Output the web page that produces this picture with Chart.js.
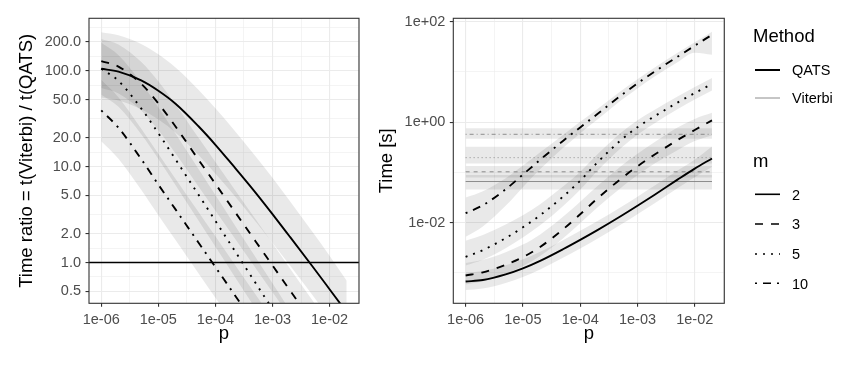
<!DOCTYPE html>
<html><head><meta charset="utf-8">
<script src="https://cdn.jsdelivr.net/npm/chart.js@4"></script>
<style>
html,body{margin:0;padding:0;background:#fff;width:863px;height:370px;overflow:hidden}
#wrapA{position:absolute;left:0;top:0;width:376px;height:370px}
#wrapB{position:absolute;left:376px;top:0;width:487px;height:370px}
</style></head><body>
<div id="wrapA"><canvas id="cA" width="376" height="370"></canvas></div>
<div id="wrapB"><canvas id="cB" width="487" height="370"></canvas></div>
<script>
// ---------------- data ----------------
const P = [1e-6, 2e-6, 5e-6, 1e-5, 2e-5, 5e-5, 1e-4, 2e-4, 5e-4, 1e-3, 2e-3, 5e-3, 1e-2, 2e-2];
const mLevels = ['2', '3', '5', '10'];

// left panel: time ratio t(Viterbi)/t(QATS)
const ratioM2  = [104.7, 97.7, 79.1, 61.7, 45.2, 26.5, 16.9, 10.4, 5.40, 3.20, 1.87, 0.914, 0.527, 0.303];
const ratioM3  = [125.9, 110.4, 73.1, 45.6, 26.2, 11.9, 6.61, 3.66, 1.68, 0.933, 0.518, 0.238, 0.132, 0.0731];
const ratioM5  = [104.7, 78.3, 40.5, 22.3, 11.9, 5.14, 2.72, 1.436, 0.618, 0.327, 0.173, 0.0743, 0.0393, 0.0207];
const ratioM10 = [38.5, 25.4, 12.0, 6.50, 3.58, 1.63, 0.897, 0.494, 0.225, 0.124, 0.0682, 0.0310, 0.0171, 0.00942];
const ratioHiM2  = [251, 234, 190, 148, 108, 63.7, 40.5, 25.1, 12.9, 7.67, 4.40, 2.09, 1.18, 0.647];
const ratioLoM2  = [52.5, 49.0, 39.6, 30.9, 22.6, 13.3, 8.45, 5.24, 2.70, 1.60, 0.940, 0.458, 0.264, 0.152];
const ratioHiM3  = [214, 188, 124, 77.4, 44.5, 20.2, 11.2, 6.22, 2.86, 1.585, 0.879, 0.404, 0.224, 0.124];
const ratioLoM3  = [66.1, 57.9, 38.4, 23.9, 13.7, 6.25, 3.47, 1.92, 0.883, 0.490, 0.272, 0.125, 0.0692, 0.0384];
const ratioHiM5  = [195, 146, 75.3, 41.5, 22.2, 9.57, 5.06, 2.67, 1.151, 0.608, 0.321, 0.138, 0.0731, 0.0386];
const ratioLoM5  = [56.2, 42.1, 21.7, 12.0, 6.41, 2.76, 1.459, 0.771, 0.332, 0.175, 0.0927, 0.0399, 0.0211, 0.0111];
const ratioHiM10 = [80.4, 53.0, 25.0, 13.6, 7.48, 3.40, 1.875, 1.033, 0.470, 0.259, 0.143, 0.0649, 0.0357, 0.0197];
const ratioLoM10 = [18.4, 12.1, 5.73, 3.11, 1.714, 0.780, 0.430, 0.237, 0.108, 0.0593, 0.0327, 0.0149, 0.00818, 0.00451];
const ratioRef = 1;

// right panel: time [s]
const qatsM2   = [6.76e-4, 7.24e-4, 9.35e-4, 1.233e-3, 1.742e-3, 2.965e-3, 4.56e-3, 7.13e-3, 1.330e-2, 2.178e-2, 3.61e-2, 7.19e-2, 0.1194, 0.190];
const qatsHiM2 = [1.023e-3, 1.096e-3, 1.416e-3, 1.866e-3, 2.636e-3, 4.49e-3, 6.90e-3, 1.079e-2, 2.014e-2, 3.30e-2, 5.47e-2, 0.1089, 0.1807, 0.330];
const qatsLoM2 = [4.57e-4, 4.90e-4, 6.32e-4, 8.34e-4, 1.178e-3, 2.004e-3, 3.08e-3, 4.82e-3, 8.99e-3, 1.472e-2, 2.443e-2, 4.86e-2, 8.07e-2, 0.1285];
const qatsM3   = [8.91e-4, 1.030e-3, 1.459e-3, 2.065e-3, 3.29e-3, 7.36e-3, 1.472e-2, 3.03e-2, 7.29e-2, 0.1324, 0.2275, 0.441, 0.701, 1.086];
const qatsHiM3 = [1.585e-3, 1.832e-3, 2.594e-3, 3.67e-3, 5.85e-3, 1.309e-2, 2.618e-2, 5.38e-2, 0.1297, 0.2355, 0.4046, 0.7834, 1.164, 1.535];
const qatsLoM3 = [5.89e-4, 6.81e-4, 9.64e-4, 1.365e-3, 2.173e-3, 4.86e-3, 9.73e-3, 2.0e-2, 4.82e-2, 8.75e-2, 0.1503, 0.278, 0.4227, 0.5445];
const qatsM5   = [2.089e-3, 2.851e-3, 4.94e-3, 8.09e-3, 1.409e-2, 3.30e-2, 6.84e-2, 0.1585, 0.4266, 0.7943, 1.318, 2.455, 3.802, 5.754];
const qatsHiM5 = [4.37e-3, 5.69e-3, 9.20e-3, 1.406e-2, 2.339e-2, 5.24e-2, 0.1035, 0.2291, 0.6026, 1.096, 1.778, 3.236, 5.012, 7.586];
const qatsLoM5 = [1.413e-3, 1.841e-3, 3.119e-3, 5.105e-3, 8.89e-3, 2.133e-2, 4.52e-2, 0.1072, 0.2951, 0.5623, 0.9550, 1.820, 2.818, 4.266];
const qatsM10   = [1.549e-2, 2.223e-2, 4.62e-2, 9.06e-2, 0.1786, 0.4227, 0.7889, 1.452, 3.311, 5.929, 10.19, 20.09, 33.34, 54.95];
const qatsHiM10 = [3.162e-2, 4.236e-2, 7.674e-2, 0.1371, 0.2523, 0.5572, 1.016, 1.828, 4.074, 7.129, 12.25, 24.15, 39.17, 63.10];
const qatsLoM10 = [5.248e-3, 8.45e-3, 2.163e-2, 5.093e-2, 0.1153, 0.3062, 0.5984, 1.127, 2.630, 4.710, 8.091, 15.60, 24.15, 21.88];
const viterbiTime = [0.066, 0.103, 0.197, 0.575];   // per m level
const viterbiLo   = [0.046, 0.079, 0.151, 0.468];
const viterbiHi   = [0.089, 0.135, 0.324, 0.759];

// ticks
const xTickVals   = [1e-6, 3.162e-6, 1e-5, 3.162e-5, 1e-4, 3.162e-4, 1e-3, 3.162e-3, 1e-2, 3.162e-2];
const xTickLabels = ['1e-06', '', '1e-05', '', '1e-04', '', '1e-03', '', '1e-02', ''];
const ratioTickVals   = [0.5, 0.7071, 1, 1.414, 2, 3.162, 5, 7.071, 10, 14.14, 20, 31.62, 50, 70.71, 100, 141.4, 200, 282.8];
const ratioTickLabels = ['0.5', '', '1.0', '', '2.0', '', '5.0', '', '10.0', '', '20.0', '', '50.0', '', '100.0', '', '200.0', ''];
const timeTickVals   = [1e-3, 1e-2, 1e-1, 1, 10, 100];
const timeTickLabels = ['', '1e-02', '', '1e+00', '', '1e+02'];

// axis limits
const X_MIN = 6.095e-7, X_MAX = 0.03281;
const RATIO_MIN = 0.376, RATIO_MAX = 351.6;
const TIME_MIN = 2.489e-4, TIME_MAX = 116.9;

// ---------------- styles ----------------
const FONT = "'Liberation Sans', Arial, Helvetica, sans-serif";
const RIB = 'rgba(0,0,0,0.085)';
const qDash = [[], [8, 8], [2, 6], [2, 6, 8, 6]];
const vDash = [[], [4, 4], [1, 3], [1, 3, 4, 3]];

const pts = arr => P.map((p, i) => ({x: p, y: arr[i]}));
const flat = v => [{x: P[0], y: v}, {x: P[P.length - 1], y: v}];

function ribbon(lo, hi, order) {
  return [
    {data: lo, borderColor: 'rgba(0,0,0,0)', borderWidth: 0, pointRadius: 0, fill: false, order, cubicInterpolationMode: 'monotone'},
    {data: hi, borderColor: 'rgba(0,0,0,0)', borderWidth: 0, pointRadius: 0, fill: '-1', backgroundColor: RIB, order, cubicInterpolationMode: 'monotone'}
  ];
}
function line(data, dash, width, color, order) {
  return {data, borderColor: color, borderWidth: width, borderDash: dash, borderCapStyle: 'butt',
          pointRadius: 0, fill: false, order, cubicInterpolationMode: 'monotone'};
}

function xScale() {
  return {
    type: 'logarithmic', min: X_MIN, max: X_MAX, bounds: 'data',
    afterBuildTicks: s => { s.ticks = xTickVals.map(v => ({value: v})); },
    afterFit: s => { s.height = 66.7; },
    ticks: {autoSkip: false, maxRotation: 0, minRotation: 0, padding: 4.5, color: '#4d4d4d',
            font: {family: FONT, size: 14.5}, callback: (v, i) => xTickLabels[i]},
    grid: {color: '#ebebeb', lineWidth: c => (xTickLabels[c.index] ? 1.1 : 0.55),
           tickLength: 3.5, tickWidth: 1.1,
           tickColor: c => (xTickLabels[c.index] ? '#333333' : 'rgba(0,0,0,0)')},
    border: {display: false}
  };
}
function yScale(min, max, vals, labels, width) {
  return {
    type: 'logarithmic', min, max, bounds: 'data',
    afterBuildTicks: s => { s.ticks = vals.map(v => ({value: v})); },
    afterFit: s => { s.width = width; },
    ticks: {autoSkip: false, padding: 4.5, color: '#4d4d4d',
            font: {family: FONT, size: 14.5}, callback: (v, i) => labels[i]},
    grid: {color: '#ebebeb', lineWidth: c => (labels[c.index] ? 1.1 : 0.55),
           tickLength: 3.5, tickWidth: 1.1,
           tickColor: c => (labels[c.index] ? '#333333' : 'rgba(0,0,0,0)')},
    border: {display: false}
  };
}

const frame = {
  id: 'frame',
  afterDraw(chart, args, opts) {
    const {ctx, chartArea: a} = chart;
    ctx.save();
    ctx.strokeStyle = '#333333'; ctx.lineWidth = 1.1;
    ctx.strokeRect(a.left, a.top, a.right - a.left, a.bottom - a.top);
    ctx.fillStyle = '#000';
    ctx.font = '18.5px ' + FONT;
    ctx.textAlign = 'center'; ctx.textBaseline = 'alphabetic';
    ctx.fillText('p', (a.left + a.right) / 2, 339);
    ctx.translate(opts.yTitleX, (a.top + a.bottom) / 2);
    ctx.rotate(-Math.PI / 2);
    ctx.fillText(opts.yTitle, 0, 0);
    ctx.restore();
  }
};

const legendPlug = {
  id: 'legendPlug',
  afterDraw(chart, args, opts) {
    const ctx = chart.ctx, ox = opts.offsetX;
    ctx.save();
    ctx.fillStyle = '#000';
    ctx.textAlign = 'left'; ctx.textBaseline = 'alphabetic';
    ctx.font = '18.5px ' + FONT;
    ctx.fillText('Method', 753 - ox, 42);
    ctx.fillText('m', 753 - ox, 167);
    const key = (y, w, color, dash) => {
      ctx.beginPath(); ctx.setLineDash(dash); ctx.lineCap = 'butt';
      ctx.strokeStyle = color; ctx.lineWidth = w;
      ctx.moveTo(755 - ox, y); ctx.lineTo(780 - ox, y); ctx.stroke();
    };
    ctx.font = '14.5px ' + FONT;
    key(70, 2, '#000', []); ctx.fillText('QATS', 792 - ox, 75.2);
    key(98, 0.9, '#808080', []); ctx.fillText('Viterbi', 792 - ox, 103.2);
    const ys = [194.3, 224, 254, 283.3];
    mLevels.forEach((m, i) => {
      key(ys[i], 1.6, '#000', qDash[i]);
      ctx.setLineDash([]);
      ctx.fillText(m, 792 - ox, ys[i] + 5.2);
    });
    ctx.restore();
  }
};

const common = {
  responsive: false, animation: false, events: [],
  plugins: {legend: {display: false}, tooltip: {enabled: false}}
};

// ---------------- left chart ----------------
const ratioLines = [ratioM2, ratioM3, ratioM5, ratioM10];
const ratioHi = [ratioHiM2, ratioHiM3, ratioHiM5, ratioHiM10];
const ratioLo = [ratioLoM2, ratioLoM3, ratioLoM5, ratioLoM10];
const dsA = [];
ratioLines.forEach((l, i) => { dsA.push(...ribbon(pts(ratioLo[i]), pts(ratioHi[i]), 3)); });
dsA.push(line([{x: X_MIN, y: ratioRef}, {x: X_MAX, y: ratioRef}], [], 1.4, '#000', 1));
ratioLines.forEach((l, i) => { dsA.push(line(pts(l), qDash[i], 1.9, '#000', 0)); });

new Chart(document.getElementById('cA'), {
  type: 'line',
  data: {datasets: dsA},
  options: Object.assign({}, common, {
    layout: {padding: {left: 0, top: 18.3, right: 17, bottom: 0}},
    scales: {x: xScale(), y: yScale(RATIO_MIN, RATIO_MAX, ratioTickVals, ratioTickLabels, 89)},
    plugins: Object.assign({}, common.plugins, {frame: {yTitle: 'Time ratio = t(Viterbi) / t(QATS)', yTitleX: 32}})
  }),
  plugins: [frame]
});

// ---------------- right chart ----------------
const qLines = [qatsM2, qatsM3, qatsM5, qatsM10];
const qHi = [qatsHiM2, qatsHiM3, qatsHiM5, qatsHiM10];
const qLo = [qatsLoM2, qatsLoM3, qatsLoM5, qatsLoM10];
const dsB = [];
viterbiTime.forEach((v, i) => { dsB.push(...ribbon(flat(viterbiLo[i]), flat(viterbiHi[i]), 5)); });
qLines.forEach((l, i) => { dsB.push(...ribbon(pts(qLo[i]), pts(qHi[i]), 4)); });
viterbiTime.forEach((v, i) => { dsB.push(line(flat(v), vDash[i], 0.9, '#808080', 1)); });
qLines.forEach((l, i) => { dsB.push(line(pts(l), qDash[i], 1.9, '#000', 0)); });

new Chart(document.getElementById('cB'), {
  type: 'line',
  data: {datasets: dsB},
  options: Object.assign({}, common, {
    layout: {padding: {left: 0, top: 18.3, right: 138.7, bottom: 0}},
    scales: {x: xScale(), y: yScale(TIME_MIN, TIME_MAX, timeTickVals, timeTickLabels, 77.3)},
    plugins: Object.assign({}, common.plugins, {
      frame: {yTitle: 'Time [s]', yTitleX: 16},
      legendPlug: {offsetX: 376}
    })
  }),
  plugins: [frame, legendPlug]
});
</script>
</body></html>
